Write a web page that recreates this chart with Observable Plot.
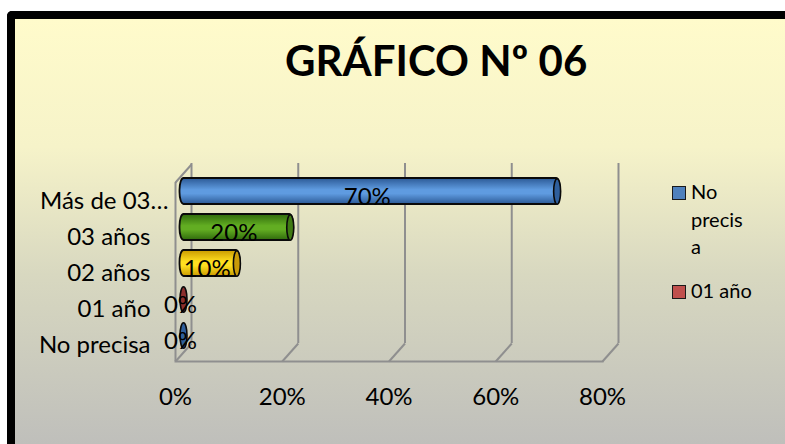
<!DOCTYPE html>
<html>
<head>
<meta charset="utf-8">
<script src="https://cdn.jsdelivr.net/npm/d3@7"></script>
<script src="https://cdn.jsdelivr.net/npm/@observablehq/plot@0.6"></script>
<style>
html,body{margin:0;padding:0;background:#fff;overflow:hidden}
#page{position:relative;width:785px;height:444px;overflow:hidden;font-family:Lato,sans-serif;color:#000}
#panel{position:absolute;left:7px;top:11px;width:778px;height:433px;box-sizing:border-box;border-left:8px solid #000;border-top:8px solid #000;border-top-left-radius:5px;background:linear-gradient(to bottom,#fffbcb 0%,#f6f3c9 30%,#d8d8c0 60%,#bfbfbb 100%)}
#title{position:absolute;left:285px;top:38px;font-size:42px;font-weight:700;line-height:44px;white-space:nowrap}
#chart{position:absolute;left:0;top:0}
#chart svg{background:transparent;display:block}
.lg{position:absolute;left:672px;font-size:20px;line-height:27.7px}
.lg i{position:absolute;left:0;top:8px;width:12px;height:12px;border:1px solid #1a1a1a}
.lg span{display:block;margin-left:19px;width:56px;overflow-wrap:anywhere}
</style>
</head>
<body>
<div id="page">
  <div id="panel"></div>
  <div id="chart"></div>
  <div id="title">GRÁFICO Nº 06</div>
  <div class="lg" style="top:178px"><i style="background:#4f81bd"></i><span>No precisa</span></div>
  <div class="lg" style="top:277px"><i style="background:#c0504d"></i><span style="width:80px">01 año</span></div>
</div>
<script>
const categories = ["Más de 03…", "03 años", "02 años", "01 año", "No precisa"];
const percents = [70, 20, 10, 0, 0];
const midColors = ["#5f9be0", "#62ad22", "#ffdf20", "#b84a48", "#4a80c0"];
const edgeColors = ["#2c5a96", "#2f6a0c", "#c99a00", "#7a2a28", "#274f85"];
const capColors = ["#2f5f9c", "#3f7a14", "#c99a08", "#8c2f2d", "#2f5f9c"];
const xTicks = [0, 20, 40, 60, 80];

const rows = categories.map((c, i) => ({c, v: percents[i], i, grad: `url(#cyl${i})`, cap: capColors[i]}));
const wallGray = "#8f8f8f";
const fontFamily = "Lato, sans-serif";

// oblique floor/side strokes and the cylinder end, as Plot dot symbols
const floorTick = {draw(ctx) { ctx.moveTo(0, 0); ctx.lineTo(16, -18); }};
const ellipse = {draw(ctx) {
  const a = 3.5, b = 12.7, k = 0.5523;
  ctx.moveTo(a, 0);
  ctx.bezierCurveTo(a, k * b, k * a, b, 0, b);
  ctx.bezierCurveTo(-k * a, b, -a, k * b, -a, 0);
  ctx.bezierCurveTo(-a, -k * b, -k * a, -b, 0, -b);
  ctx.bezierCurveTo(k * a, -b, a, -k * b, a, 0);
  ctx.closePath();
}};

const chart = Plot.plot({
  width: 785,
  height: 444,
  marginTop: 163,
  marginBottom: 83,
  marginLeft: 175,
  marginRight: 183,
  style: {background: "transparent", fontFamily, color: "#000", overflow: "visible"},
  x: {domain: [0, 80], label: null},
  y: {domain: categories, insetTop: 18, paddingInner: 0.29, paddingOuter: 0.145, label: null},
  color: {type: "identity"},
  marks: [
    // 3D walls
    Plot.ruleX(xTicks, {x: d => d, dx: 16, insetBottom: 18, stroke: wallGray, strokeWidth: 2, strokeOpacity: 1}),
    Plot.dot(xTicks, {x: d => d, frameAnchor: "bottom", symbol: floorTick, fill: "none", stroke: wallGray, strokeWidth: 2, r: 3}),
    Plot.frame({anchor: "bottom", stroke: wallGray, strokeWidth: 2, strokeOpacity: 1}),
    Plot.ruleX([0], {x: d => d, insetTop: 19, stroke: wallGray, strokeWidth: 2, strokeOpacity: 1}),
    Plot.dot([0], {x: d => d, frameAnchor: "top", dy: 19, symbol: floorTick, fill: "none", stroke: wallGray, strokeWidth: 2, r: 3}),
    // cylinders
    Plot.barX(rows.filter(d => d.v > 0), {
      x: "v", y: "c", dx: 8, dy: -8, insetLeft: -3.5, insetRight: -3.5, rx: 4, ry: 12,
      fill: "grad", stroke: "#0a0a0a", strokeWidth: 1.8
    }),
    Plot.dot(rows, {
      x: "v", y: "c", dx: 8, dy: -8, symbol: ellipse, r: 3,
      fill: "cap", stroke: "#0a0a0a", strokeWidth: 1.6
    }),
    // value labels
    Plot.text(rows, {
      x: d => d.v / 2, y: "c", dx: 5, dy: -2.5, text: d => `${d.v}%`,
      fontSize: 24, fill: "#000", stroke: "none"
    }),
    // axes
    Plot.axisY(["Más de 03…"], {anchor: "left", tickSize: 0, tickPadding: 7, dy: 2, fontSize: 24, label: null}),
    Plot.axisY(categories.slice(1), {anchor: "left", tickSize: 0, tickPadding: 25, dy: 2, fontSize: 24, label: null}),
    Plot.axisX(xTicks, {anchor: "bottom", tickSize: 0, tickPadding: 26, fontSize: 24, label: null, tickFormat: d => `${d}%`})
  ]
});

const ns = "http://www.w3.org/2000/svg";
const defs = document.createElementNS(ns, "defs");
rows.forEach((r, i) => {
  const g = document.createElementNS(ns, "linearGradient");
  g.setAttribute("id", `cyl${i}`);
  g.setAttribute("x1", "0"); g.setAttribute("x2", "0"); g.setAttribute("y1", "0"); g.setAttribute("y2", "1");
  [[0, edgeColors[i]], [0.45, midColors[i]], [0.6, midColors[i]], [1, edgeColors[i]]].forEach(([o, c]) => {
    const s = document.createElementNS(ns, "stop");
    s.setAttribute("offset", o);
    s.setAttribute("stop-color", c);
    g.appendChild(s);
  });
  defs.appendChild(g);
});
chart.insertBefore(defs, chart.firstChild);
document.getElementById("chart").appendChild(chart);
</script>
</body>
</html>
